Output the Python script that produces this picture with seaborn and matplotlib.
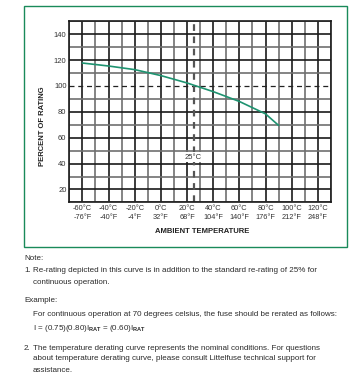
import matplotlib
matplotlib.use('Agg')
import matplotlib.pyplot as plt
import seaborn as sns
import pandas as pd
from matplotlib.patches import Rectangle

# derating curve
temp_c = [-60, -40, -20, 0, 20, 40, 60, 80, 90]
pct_rating = [117.7, 115.4, 112.6, 108.0, 102.3, 95.6, 88.0, 78.4, 69.5]

x_ticks_c = [-60, -40, -20, 0, 20, 40, 60, 80, 100, 120]
x_ticks_f = [-76, -40, -4, 32, 68, 104, 140, 176, 212, 248]
y_ticks = [20, 40, 60, 80, 100, 120, 140]

sns.set_style('white')
plt.rcParams['font.family'] = ['Liberation Sans', 'DejaVu Sans']
plt.rcParams['mathtext.fontset'] = 'custom'
plt.rcParams['mathtext.rm'] = 'Liberation Sans'
plt.rcParams['mathtext.bf'] = 'Liberation Sans:bold'

fig = plt.figure(figsize=(3.57, 3.79), dpi=100)
ax = fig.add_axes([0.194, 0.466, 0.733, 0.478])

# grid
for v in range(-70, 131, 10):
    ax.axvline(v, color='#1a1a1a' if v % 20 == 0 else '#707070', lw=1.2, zorder=1)
for h in range(10, 151, 10):
    if h == 100:
        continue
    ax.axhline(h, color='#1a1a1a' if h % 20 == 0 else '#707070', lw=1.2, zorder=1)

ax.axhline(100, color='#222222', lw=0.9, ls=(0, (4, 3)), zorder=2)
ax.axvline(25, color='#555555', lw=1.6, ls=(0, (3, 2.5)), zorder=2)

df = pd.DataFrame({'temp': temp_c, 'pct': pct_rating})
sns.lineplot(data=df, x='temp', y='pct', ax=ax, color='#1e9370', lw=1.2, zorder=3)

ax.text(25, 45, '25°C', ha='center', va='center', fontsize=5.5, color='#333333',
        bbox=dict(facecolor='white', edgecolor='none', pad=0.8), zorder=4)

ax.set_xlim(-70, 130)
ax.set_ylim(10, 150)
ax.set_xticks(x_ticks_c)
ax.set_xticklabels([f'{c}°C\n{f}°F' for c, f in zip(x_ticks_c, x_ticks_f)],
                   fontsize=5.3, color='#333333', linespacing=1.3)
ax.set_yticks(y_ticks)
ax.set_yticklabels([str(v) for v in y_ticks], fontsize=5.5, color='#333333')
ax.tick_params(length=0, pad=2)
ax.set_xlabel('')
ax.set_ylabel('')
for s in ax.spines.values():
    s.set_color('#1a1a1a')
    s.set_linewidth(1.2)

fig.text(42.7 / 357, 1 - 126.5 / 379, 'PERCENT OF RATING', rotation=90,
         ha='center', va='center', fontsize=5.5, fontweight='bold', color='#222222')
fig.text(201.7 / 357, 1 - 231.7 / 379, 'AMBIENT TEMPERATURE',
         ha='center', va='center', fontsize=5.5, fontweight='bold', color='#222222')

# green frame around the chart
fig.patches.append(Rectangle((24 / 357, 1 - 247 / 379), 323 / 357, 241 / 379,
                             transform=fig.transFigure, fill=False,
                             edgecolor='#1a8a5a', lw=1.0))

# notes
fs = 5.75
tc = '#2a2a2a'
def line(x, y, s):
    fig.text(x / 357, 1 - y / 379, s, fontsize=fs, color=tc, ha='left', va='center')

line(24, 258, 'Note:')
line(24, 271, '1.')
line(33, 271, 'Re-rating depicted in this curve is in addition to the standard re-rating of 25% for')
line(33, 282, 'continuous operation.')
line(24, 301, 'Example:')
line(33, 314, 'For continuous operation at 70 degrees celsius, the fuse should be rerated as follows:')
line(33, 329, r'I = (0.75)(0.80)I$_{\mathbf{RAT}}$ = (0.60)I$_{\mathbf{RAT}}$')
line(24, 348, '2.')
line(33, 348, 'The temperature derating curve represents the nominal conditions. For questions')
line(33, 359, 'about temperature derating curve, please consult Littelfuse technical support for')
line(33, 370, 'assistance.')

fig.savefig('out.png', dpi=100)
